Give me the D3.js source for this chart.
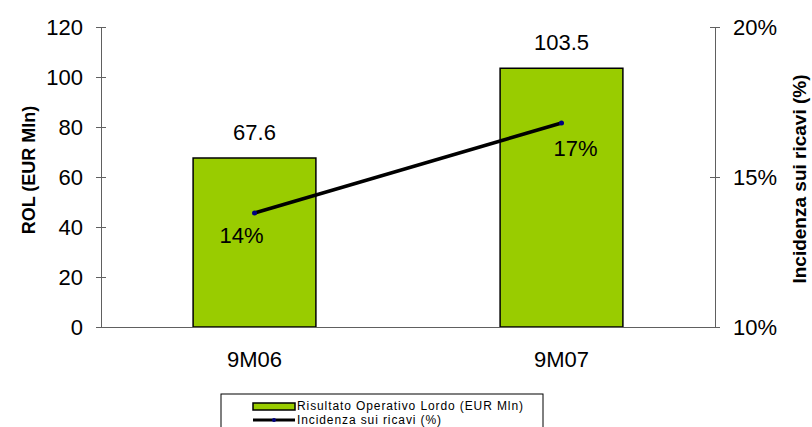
<!DOCTYPE html>
<html>
<head>
<script src="https://d3js.org/d3.v7.min.js"></script>
<style>
    body { margin: 0; background: #fff; }
    svg text { font-family: "Liberation Sans", Arial, sans-serif; fill: #000; }
    .axis path, .axis line { stroke: #606060; }
</style>
</head>
<body>
<div id="chart"></div>
<script>
// chart data
var categories = ["9M06", "9M07"];
var rolValues = [67.6, 103.5];
var incidenza = [13.8, 16.8];
var incidenzaLabels = ["14%", "17%"];
var leftTicks = [0, 20, 40, 60, 80, 100, 120];
var rightTicks = [10, 15, 20];
var seriesNames = ["Risultato Operativo Lordo (EUR Mln)", "Incidenza sui ricavi (%)"];

var width = 812, height = 427;
var plotLeft = 101, plotRight = 715, plotTop = 27, plotBottom = 327;

var svg = d3.select("#chart").append("svg")
    .attr("width", width)
    .attr("height", height);

var x = d3.scaleBand()
    .domain(categories)
    .range([plotLeft, plotRight])
    .paddingInner(0.6)
    .paddingOuter(0.3);

var y = d3.scaleLinear().domain([0, 120]).range([plotBottom, plotTop]);
var yR = d3.scaleLinear().domain([10, 20]).range([plotBottom, plotTop]);

// bars
svg.selectAll(".bar")
    .data(rolValues)
    .enter()
    .append("rect")
    .attr("class", "bar")
    .attr("x", function(d, i) { return x(categories[i]); })
    .attr("y", function(d) { return y(d); })
    .attr("width", x.bandwidth())
    .attr("height", function(d) { return y(0) - y(d); })
    .attr("fill", "#99cc00")
    .attr("stroke", "#000")
    .attr("stroke-width", 1.5);

// bar value labels
svg.selectAll(".bar-label")
    .data(rolValues)
    .enter()
    .append("text")
    .attr("class", "bar-label")
    .attr("x", function(d, i) { return x(categories[i]) + x.bandwidth() / 2; })
    .attr("y", function(d) { return y(d) - 26; })
    .attr("dy", "0.35em")
    .attr("text-anchor", "middle")
    .style("font-size", "22px")
    .text(function(d) { return d.toFixed(1); });

// left axis
var gl = svg.append("g")
    .attr("class", "axis")
    .attr("transform", "translate(" + plotLeft + ",0)")
    .call(d3.axisLeft(y).tickValues(leftTicks).tickSizeInner(5).tickSizeOuter(0).tickPadding(13));
gl.selectAll(".tick line").attr("x1", 5);
gl.selectAll("text").style("font-size", "22px").attr("fill", "#000");

// right axis
var gr = svg.append("g")
    .attr("class", "axis")
    .attr("transform", "translate(" + plotRight + ",0)")
    .call(d3.axisRight(yR).tickValues(rightTicks).tickSizeInner(5).tickSizeOuter(0).tickPadding(13)
        .tickFormat(function(d) { return d + "%"; }));
gr.selectAll(".tick line").attr("x1", -5);
gr.selectAll("text").style("font-size", "22px").attr("fill", "#000");

// bottom axis (no ticks)
var gb = svg.append("g")
    .attr("class", "axis")
    .attr("transform", "translate(0," + plotBottom + ")")
    .call(d3.axisBottom(x).tickSize(0).tickPadding(24));
gb.selectAll("text").style("font-size", "22px").attr("fill", "#000");

// line series
var line = d3.line()
    .x(function(d, i) { return x(categories[i]) + x.bandwidth() / 2; })
    .y(function(d) { return yR(d); });

svg.append("path")
    .datum(incidenza)
    .attr("d", line)
    .attr("fill", "none")
    .attr("stroke", "#000")
    .attr("stroke-width", 3.5);

svg.selectAll(".dot")
    .data(incidenza)
    .enter()
    .append("circle")
    .attr("class", "dot")
    .attr("cx", function(d, i) { return x(categories[i]) + x.bandwidth() / 2; })
    .attr("cy", function(d) { return yR(d); })
    .attr("r", 2.5)
    .attr("fill", "#000080");

var lblOffset = [[-13, 22], [14, 25]];
svg.selectAll(".line-label")
    .data(incidenza)
    .enter()
    .append("text")
    .attr("class", "line-label")
    .attr("x", function(d, i) { return x(categories[i]) + x.bandwidth() / 2 + lblOffset[i][0]; })
    .attr("y", function(d, i) { return yR(d) + lblOffset[i][1]; })
    .attr("dy", "0.35em")
    .attr("text-anchor", "middle")
    .style("font-size", "22px")
    .text(function(d, i) { return incidenzaLabels[i]; });

// axis titles
svg.append("text")
    .attr("transform", "translate(29,170) rotate(-90)")
    .attr("dy", "0.35em")
    .attr("text-anchor", "middle")
    .style("font-size", "18px")
    .style("font-weight", "bold")
    .text("ROL (EUR Mln)");

svg.append("text")
    .attr("transform", "translate(799,179) rotate(-90)")
    .attr("dy", "0.35em")
    .attr("text-anchor", "middle")
    .style("font-size", "19px")
    .style("font-weight", "bold")
    .text("Incidenza sui ricavi (%)");

// legend
var lg = svg.append("g").attr("transform", "translate(221,394)");
lg.append("rect")
    .attr("width", 322)
    .attr("height", 50)
    .attr("fill", "#fff")
    .attr("stroke", "#000")
    .attr("stroke-width", 1);
lg.append("rect")
    .attr("x", 32).attr("y", 9)
    .attr("width", 42).attr("height", 7)
    .attr("fill", "#99cc00")
    .attr("stroke", "#000")
    .attr("stroke-width", 1.5);
lg.append("line")
    .attr("x1", 32).attr("x2", 74)
    .attr("y1", 26).attr("y2", 26)
    .attr("stroke", "#000")
    .attr("stroke-width", 3);
lg.append("circle")
    .attr("cx", 53).attr("cy", 26).attr("r", 2)
    .attr("fill", "#000080");
lg.selectAll(".leg-text")
    .data(seriesNames)
    .enter()
    .append("text")
    .attr("class", "leg-text")
    .attr("x", 76)
    .attr("y", function(d, i) { return 12 + i * 14; })
    .attr("dy", "0.35em")
    .style("font-size", "12px")
    .style("letter-spacing", "0.9px")
    .text(function(d) { return d; });
</script>
</body>
</html>
